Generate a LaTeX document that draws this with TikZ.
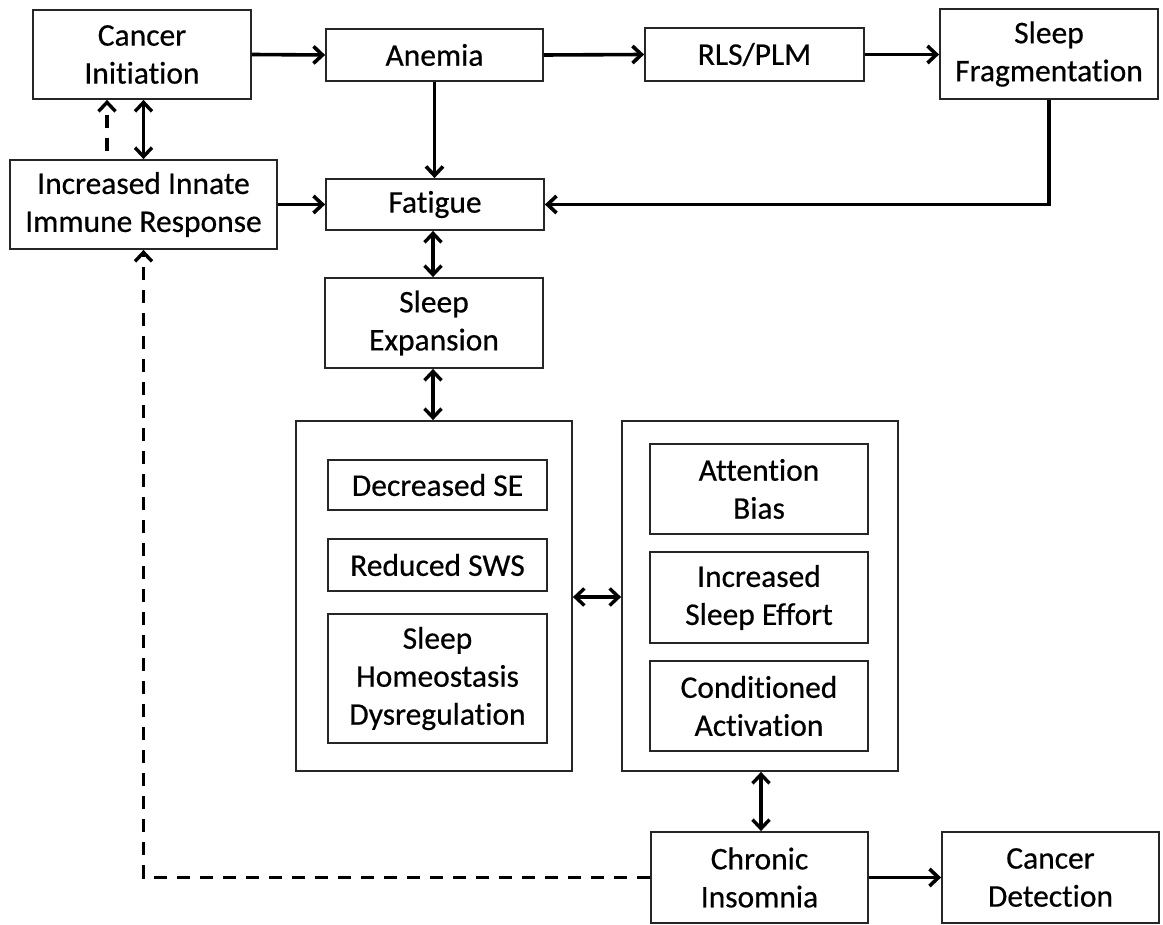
\documentclass[tikz,border=0pt]{standalone}
\usepackage{fontspec}
\setmainfont{Carlito}[Ligatures={NoCommon},BoldFont=Carlito,BoldFeatures={FakeBold=0.5}]
\usetikzlibrary{arrows.meta,calc}
\begin{document}
\begin{tikzpicture}[x=1pt,y=-1pt,
  box/.style={draw=black!85,line width=1.8pt,inner sep=0pt,align=center,
    font=\fontsize{31.5pt}{38pt}\selectfont\bfseries},
  arr/.style={line width=3.6pt,-{Straight Barb[length=9pt,width=17pt]}},
  darr/.style={line width=3.4pt,{Straight Barb[length=9pt,width=17pt]}-{Straight Barb[length=9pt,width=17pt]}},
  dsh/.style={line width=3.4pt,dash pattern=on 13pt off 10pt}]
\useasboundingbox (0,0) rectangle (1163,925);
% top row
\node[box,minimum width=218pt,minimum height=89pt] (ci) at (142,54.5) {Cancer\\Initiation};
\node[box,minimum width=217pt,minimum height=52pt] (an) at (434.5,55) {Anemia};
\node[box,minimum width=219pt,minimum height=53pt] (rls) at (754.5,54.5) {RLS/PLM};
\node[box,minimum width=218pt,minimum height=90pt] (sf) at (1049,54) {Sleep\\Fragmentation};
% second row
\node[box,minimum width=267pt,minimum height=89pt] (iir) at (143.5,204.5) {Increased Innate\\Immune Response};
\node[box,minimum width=218pt,minimum height=51pt] (fat) at (435,204.5) {Fatigue};
\node[box,minimum width=218pt,minimum height=90pt] (sexp) at (434,323) {Sleep\\Expansion};
% big boxes
\node[box,minimum width=276pt,minimum height=350pt] (lb) at (434,596) {};
\node[box,minimum width=276pt,minimum height=350pt] (rb) at (760,596) {};
\node[box,minimum width=219pt,minimum height=50pt] (dse) at (437.5,485) {Decreased SE};
\node[box,minimum width=219pt,minimum height=52pt] (sws) at (437.5,565) {Reduced SWS};
\node[box,minimum width=219pt,minimum height=129pt] (shd) at (437.5,678.5) {Sleep\\Homeostasis\\Dysregulation};
\node[box,minimum width=218pt,minimum height=90pt] (ab) at (759,489) {Attention\\Bias};
\node[box,minimum width=218pt,minimum height=91pt] (ise) at (759,597.5) {Increased\\Sleep Effort};
\node[box,minimum width=218pt,minimum height=90pt] (ca) at (759,706) {Conditioned\\Activation};
% bottom
\node[box,minimum width=217pt,minimum height=91pt] (chi) at (759.5,877.5) {Chronic\\Insomnia};
\node[box,minimum width=217pt,minimum height=91pt] (cd) at (1050.5,877.5) {Cancer\\Detection};
% connectors
\draw[arr] (ci.east) -- (an.west);
\draw[arr] (an.east) -- (rls.west);
\draw[arr] (rls.east) -- (rls.east -| sf.west);
\draw[arr] (an.south) -- (an.south |- fat.north);
\draw[arr] (sf.south) |- (fat.east);
\draw[arr] (iir.east) -- (iir.east -| fat.west);
\draw[darr] ($(fat.south)+(-2,0)$) -- ($(sexp.north)+(-1,0)$);
\draw[darr] ($(sexp.south)+(-1,0)$) -- ($(lb.north)+(-1,0)$);
\draw[darr] ($(lb.east)+(0,1)$) -- ($(rb.west)+(0,1)$);
\draw[darr] ($(rb.south)+(1,0)$) -- ($(chi.north)+(1.5,0)$);
\draw[arr] (chi.east) -- (chi.east -| cd.west);
\draw[darr] (iir.north) -- (iir.north |- ci.south);
\coordinate (dtop) at ($(ci.south)+(-35,0)$);
\coordinate (dbot) at ($(iir.north)+(-36.5,-8)$);
\draw[dsh,-{Straight Barb[length=9pt,width=17pt]}] (dbot) -- (dtop);
\draw[dsh,-{Straight Barb[length=9pt,width=17pt]}] (chi.west) -| (iir.south);
\end{tikzpicture}
\end{document}
